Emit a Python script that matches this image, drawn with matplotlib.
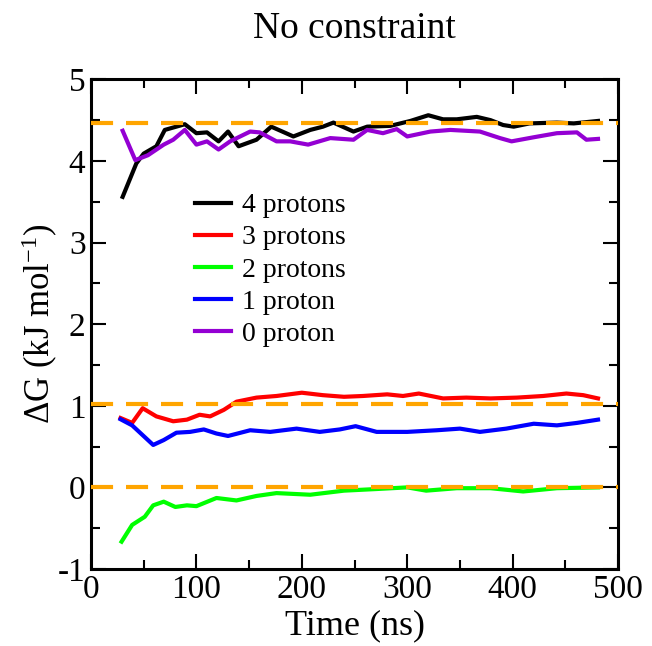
import matplotlib
matplotlib.use('Agg')
import matplotlib.pyplot as plt

plt.rcParams['font.family'] = ['Liberation Serif', 'DejaVu Serif']
plt.rcParams['mathtext.fontset'] = 'custom'
plt.rcParams['mathtext.rm'] = 'Liberation Serif'
plt.rcParams['mathtext.it'] = 'Liberation Serif:italic'
plt.rcParams['axes.unicode_minus'] = False

# Free energy vs simulation time, one series per protonation state
t_4p = [30, 43, 50, 62, 70, 89, 100, 110, 121, 130, 140, 157, 171, 192, 208, 220,
        230, 249, 262, 284, 303, 320, 334, 347, 366, 379, 391, 401, 416, 442, 458, 481]
dg_4p = [3.56, 3.97, 4.09, 4.18, 4.38, 4.45, 4.34, 4.35, 4.24, 4.36, 4.18, 4.26, 4.42,
         4.30, 4.38, 4.42, 4.47, 4.36, 4.42, 4.43, 4.49, 4.56, 4.51, 4.51, 4.54, 4.50,
         4.44, 4.42, 4.46, 4.47, 4.46, 4.49]

t_3p = [28, 39, 49, 62, 78, 91, 103, 113, 126, 138, 157, 176, 200, 220, 240, 258,
        281, 296, 311, 334, 356, 379, 404, 429, 451, 467, 481]
dg_3p = [0.85, 0.79, 0.97, 0.87, 0.81, 0.83, 0.89, 0.87, 0.95, 1.05, 1.10, 1.12, 1.16,
         1.13, 1.11, 1.12, 1.14, 1.12, 1.15, 1.09, 1.10, 1.09, 1.10, 1.12, 1.15, 1.13, 1.09]

t_2p = [29, 39, 51, 59, 69, 80, 91, 100, 119, 138, 157, 176, 208, 240, 271, 300,
        318, 347, 379, 410, 442, 481]
dg_2p = [-0.665, -0.46, -0.36, -0.22, -0.175, -0.24, -0.22, -0.23, -0.13, -0.16, -0.105,
         -0.07, -0.09, -0.04, -0.02, 0.0, -0.04, -0.01, -0.01, -0.05, -0.01, 0.0]

t_1p = [28, 39, 59, 69, 81, 94, 107, 119, 130, 151, 170, 195, 217, 236, 251, 271,
        300, 328, 350, 369, 394, 420, 442, 461, 481]
dg_1p = [0.835, 0.76, 0.52, 0.58, 0.67, 0.68, 0.71, 0.66, 0.63, 0.70, 0.68, 0.72, 0.68,
         0.71, 0.75, 0.68, 0.68, 0.70, 0.72, 0.68, 0.72, 0.78, 0.76, 0.79, 0.83]

t_0p = [30, 42, 54, 69, 78, 89, 100, 110, 121, 132, 151, 160, 176, 189, 206, 227,
        249, 262, 277, 290, 300, 322, 341, 369, 388, 399, 420, 442, 461, 470, 481]
dg_0p = [4.37, 4.01, 4.07, 4.20, 4.26, 4.38, 4.20, 4.24, 4.14, 4.24, 4.36, 4.35, 4.24,
         4.24, 4.20, 4.28, 4.26, 4.38, 4.34, 4.39, 4.30, 4.36, 4.38, 4.36, 4.28, 4.24,
         4.29, 4.34, 4.35, 4.26, 4.27]

labels = ['4 protons', '3 protons', '2 protons', '1 proton', '0 proton']
colors = ['black', '#ff0000', '#00ff00', '#0000ff', '#9400d3']
reference_levels = [4.47, 1.02, 0.0]

series = [(t_4p, dg_4p), (t_3p, dg_3p), (t_2p, dg_2p), (t_1p, dg_1p), (t_0p, dg_0p)]

fig = plt.figure(figsize=(6.52, 6.46), dpi=100)
ax = fig.add_axes([0.1396, 0.1192, 0.8083, 0.7580])

for (t, dg), lab, c in zip(series, labels, colors):
    ax.plot(t, dg, color=c, lw=3, label=lab, zorder=2)

for lvl in reference_levels:
    ax.axhline(lvl, color='#ffa500', lw=3, dashes=(5.3, 3.1), zorder=3)

ax.set_xlim(0, 500)
ax.set_ylim(-1, 5)
ax.set_xticks(range(0, 501, 100))
ax.set_xticks(range(50, 500, 100), minor=True)
ax.set_yticks(range(-1, 6))
ax.set_yticks([-0.5, 0.5, 1.5, 2.5, 3.5, 4.5], minor=True)
ax.tick_params(which='both', direction='in', top=True, right=True, width=1.5,
               labelsize=24, pad=4)
ax.tick_params(which='major', length=10.8)
ax.tick_params(which='minor', length=6.5)
for s in ax.spines.values():
    s.set_linewidth(2.2)

ax.set_title('No constraint', fontsize=27, pad=30)
ax.set_xlabel('Time (ns)', fontsize=26, labelpad=3)
ax.set_ylabel('ΔG (kJ mol$^{-1}$)', fontsize=25, labelpad=-2)

ax.legend(loc='upper left', bbox_to_anchor=(0.197, 0.768), frameon=False,
          fontsize=20, handlelength=1.3, handletextpad=0.4, labelspacing=0.24,
          borderpad=0, borderaxespad=0)

fig.savefig('out.png', dpi=100)
